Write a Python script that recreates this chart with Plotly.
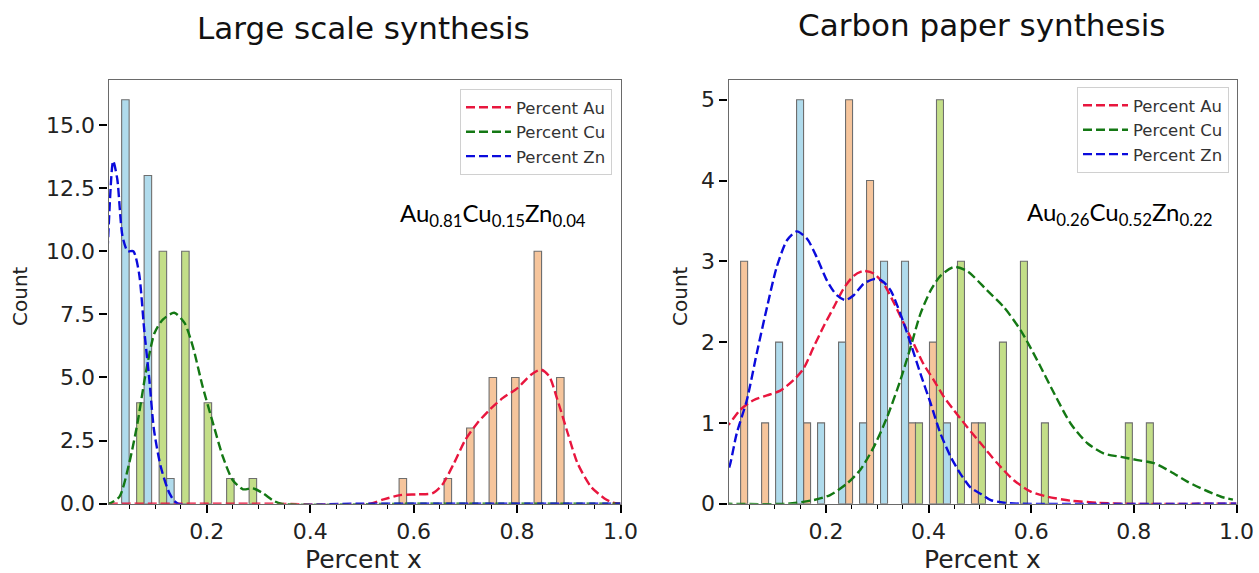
import plotly.graph_objects as go

# ---------------- data ----------------
elements = ["Au", "Cu", "Zn"]

# Left panel: "Large scale synthesis" (dodged histogram, 21 bins)
left_bin_start = 0.0064
left_bin_width = 0.0435
left_au = [0, 0, 0, 0, 0, 0, 0, 0, 0, 0, 0, 0, 0, 1, 0, 1, 3, 5, 5, 10, 5]
left_cu = [0, 4, 10, 10, 4, 1, 1, 0, 0, 0, 0, 0, 0, 0, 0, 0, 0, 0, 0, 0, 0]
left_zn = [16, 13, 1, 0, 0, 0, 0, 0, 0, 0, 0, 0, 0, 0, 0, 0, 0, 0, 0, 0, 0]

# Right panel: "Carbon paper synthesis" (dodged histogram, 20 bins)
right_bin_start = 0.0336
right_bin_width = 0.0409
right_au = [3, 1, 0, 1, 0, 5, 4, 0, 1, 2, 0, 1, 0, 0, 0, 0, 0, 0, 0, 0]
right_cu = [0, 0, 0, 0, 0, 0, 0, 0, 1, 5, 3, 1, 2, 3, 1, 0, 0, 0, 1, 1]
right_zn = [0, 2, 5, 1, 2, 1, 3, 3, 0, 1, 0, 0, 0, 0, 0, 0, 0, 0, 0, 0]

# KDE curves (x, count-scaled density)
left_kde_au_x = [0.01, 0.3, 0.516, 0.542, 0.574, 0.607, 0.636, 0.655, 0.678, 0.70, 0.723, 0.747, 0.772,
                 0.801, 0.827, 0.846, 0.862, 0.878, 0.898, 0.917, 0.943, 0.969, 0.985, 1.0]
left_kde_au_y = [0.0, 0.0, 0.0, 0.17, 0.34, 0.37, 0.41, 0.74, 1.6, 2.53, 3.19, 3.72, 4.18,
                 4.58, 5.11, 5.31, 5.05, 4.12, 2.79, 1.6, 0.67, 0.21, 0.04, 0.0]
left_kde_cu_x = [0.005, 0.011, 0.031, 0.05, 0.066, 0.082, 0.099, 0.115, 0.137, 0.157, 0.173, 0.192, 0.212,
                 0.231, 0.25, 0.27, 0.289, 0.309, 0.328, 0.344, 0.6, 1.0]
left_kde_cu_y = [0.0, 0.0, 0.27, 1.6, 3.19, 5.17, 6.76, 7.29, 7.56, 7.16, 6.23, 4.64, 3.19,
                 1.87, 0.94, 0.57, 0.61, 0.41, 0.13, 0.0, 0.0, 0.0]
left_kde_zn_x = [0.004, 0.008, 0.019, 0.027, 0.037, 0.047, 0.058, 0.069, 0.079, 0.089, 0.098, 0.111,
                 0.128, 0.144, 0.5, 1.0]
left_kde_zn_y = [8.5, 10.0, 13.57, 12.85, 10.6, 10.0, 10.0, 9.14, 6.9, 4.9, 2.92, 1.47,
                 0.41, 0.0, 0.0, 0.0]

right_kde_au_x = [0.0, 0.0117, 0.0326, 0.0586, 0.085, 0.111, 0.137, 0.156, 0.176, 0.195, 0.215, 0.234,
                  0.254, 0.273, 0.293, 0.3125, 0.332, 0.3516, 0.371, 0.39, 0.41, 0.43, 0.449,
                  0.475, 0.501, 0.534, 0.566, 0.599, 0.632, 0.677, 0.729, 0.775, 1.0]
right_kde_au_y = [0.93, 0.99, 1.16, 1.28, 1.34, 1.40, 1.53, 1.67, 1.94, 2.19, 2.43, 2.66,
                  2.82, 2.88, 2.85, 2.72, 2.49, 2.23, 1.98, 1.73, 1.53, 1.32, 1.16,
                  0.95, 0.75, 0.50, 0.29, 0.15, 0.086, 0.037, 0.012, 0.0, 0.0]
right_kde_cu_x = [0.0, 0.124, 0.176, 0.208, 0.241, 0.267, 0.293, 0.319, 0.345, 0.365, 0.384, 0.404,
                  0.423, 0.449, 0.475, 0.514, 0.547, 0.58, 0.612, 0.645, 0.677, 0.71, 0.742,
                  0.775, 0.807, 0.84, 0.872, 0.905, 0.9375, 0.97, 0.993]
right_kde_cu_y = [0.0, 0.0, 0.045, 0.107, 0.25, 0.42, 0.70, 1.07, 1.53, 1.94, 2.35, 2.64,
                  2.82, 2.93, 2.88, 2.64, 2.43, 2.14, 1.77, 1.36, 0.99, 0.745, 0.62,
                  0.58, 0.54, 0.50, 0.395, 0.27, 0.17, 0.086, 0.05]
right_kde_zn_x = [0.0, 0.0117, 0.026, 0.0457, 0.065, 0.085, 0.104, 0.124, 0.143, 0.163, 0.182, 0.202,
                  0.221, 0.238, 0.254, 0.273, 0.293, 0.309, 0.326, 0.345, 0.365, 0.384, 0.404,
                  0.423, 0.443, 0.462, 0.482, 0.502, 0.521, 0.547, 0.58, 1.0]
right_kde_zn_y = [0.3, 0.457, 0.87, 1.28, 1.86, 2.43, 2.93, 3.26, 3.37, 3.28, 3.05, 2.76,
                  2.58, 2.52, 2.58, 2.72, 2.78, 2.76, 2.64, 2.35, 1.98, 1.61, 1.24,
                  0.87, 0.58, 0.37, 0.20, 0.12, 0.045, 0.012, 0.0, 0.0]

left_title = "Large scale synthesis"
right_title = "Carbon paper synthesis"
left_formula = "Au<sub>0.81</sub>Cu<sub>0.15</sub>Zn<sub>0.04</sub>"
right_formula = "Au<sub>0.26</sub>Cu<sub>0.52</sub>Zn<sub>0.22</sub>"
left_yticks = [0, 2.5, 5, 7.5, 10, 12.5, 15]
left_yticktext = ["0.0", "2.5", "5.0", "7.5", "10.0", "12.5", "15.0"]
right_yticks = [0, 1, 2, 3, 4, 5]
right_yticktext = ["0", "1", "2", "3", "4", "5"]
xticks = [0.2, 0.4, 0.6, 0.8, 1.0]
xticktext = ["0.2", "0.4", "0.6", "0.8", "1.0"]

# ---------------- styles ----------------
bar_colors = {"Au": "#f6c59c", "Cu": "#c3de88", "Zn": "#b0dbec"}
line_colors = {"Au": "#e8163e", "Cu": "#147814", "Zn": "#0b0bdc"}
FONT = "DejaVu Sans"

W, H = 1259, 573
fig = go.Figure()


def add_panel(xaxis, yaxis, bin_start, bin_width, counts, kdes, legend):
    sub = bin_width / 3.0
    for slot, el in enumerate(elements):
        xs, ys = [], []
        for k, c in enumerate(counts[el]):
            if c > 0:
                xs.append(bin_start + k * bin_width + (slot + 0.5) * sub)
                ys.append(c)
        fig.add_trace(go.Bar(
            x=xs, y=ys, width=[sub] * len(xs), xaxis=xaxis, yaxis=yaxis,
            marker=dict(color=bar_colors[el], line=dict(color="#6e6e6e", width=1.1)),
            showlegend=False, hoverinfo="skip"))
    for el in elements:
        kx, ky = kdes[el]
        fig.add_trace(go.Scatter(
            x=kx, y=ky, mode="lines", xaxis=xaxis, yaxis=yaxis,
            line=dict(color=line_colors[el], width=2.4, dash="9px,4px", shape="spline", smoothing=0.7),
            name="Percent " + el, legend=legend))


add_panel("x", "y", left_bin_start, left_bin_width,
          {"Au": left_au, "Cu": left_cu, "Zn": left_zn},
          {"Au": (left_kde_au_x, left_kde_au_y), "Cu": (left_kde_cu_x, left_kde_cu_y),
           "Zn": (left_kde_zn_x, left_kde_zn_y)}, "legend")
add_panel("x2", "y2", right_bin_start, right_bin_width,
          {"Au": right_au, "Cu": right_cu, "Zn": right_zn},
          {"Au": (right_kde_au_x, right_kde_au_y), "Cu": (right_kde_cu_x, right_kde_cu_y),
           "Zn": (right_kde_zn_x, right_kde_zn_y)}, "legend2")

ydom = [69.3 / H, 1 - 79.5 / H]
xdom_l = [108.5 / W, 620.5 / W]
xdom_r = [728.5 / W, 1236.5 / W]

common_x = dict(range=[0.01, 1.0], showline=True, mirror=True, linecolor="#6a6a6a", linewidth=1.3,
                showgrid=False, zeroline=False, ticks="outside", ticklen=8, tickwidth=2, tickcolor="black",
                tickvals=xticks, ticktext=xticktext, tickfont=dict(family=FONT, size=22, color="#222"),
                automargin=False,
                minor=dict(ticks="outside", ticklen=4, tickwidth=1.3, tickcolor="black", dtick=0.05, tick0=0,
                           showgrid=False))
common_y = dict(showline=True, mirror=True, linecolor="#6a6a6a", linewidth=1.3, showgrid=False,
                zeroline=False, ticks="outside", ticklen=8, tickwidth=2, tickcolor="black",
                automargin=False, tickfont=dict(family=FONT, size=22, color="#222"))

legend_common = dict(xanchor="right", yanchor="top", bgcolor="rgba(255,255,255,0.8)",
                     bordercolor="#d0d0d0", borderwidth=1,
                     font=dict(family=FONT, size=16.5, color="#333"), itemwidth=45, tracegroupgap=0)

fig.update_layout(
    width=W, height=H, margin=dict(l=0, r=0, t=0, b=0, autoexpand=False),
    paper_bgcolor="white", plot_bgcolor="white", barmode="overlay",
    xaxis=dict(domain=xdom_l, anchor="y", **common_x),
    yaxis=dict(domain=ydom, anchor="x", range=[0, 16.8], tickvals=left_yticks, ticktext=left_yticktext,
               **common_y),
    xaxis2=dict(domain=xdom_r, anchor="y2", **common_x),
    yaxis2=dict(domain=ydom, anchor="x2", range=[0, 5.25], tickvals=right_yticks, ticktext=right_yticktext,
                **common_y),
    legend=dict(x=612 / W, y=1 - 89 / H, **legend_common),
    legend2=dict(x=1229 / W, y=1 - 87 / H, **legend_common),
)

ann = []
ann.append(dict(x=363 / W, y=1 - 28 / H, text=left_title, font=dict(family=FONT, size=31, color="#111")))
ann.append(dict(x=982 / W, y=1 - 25 / H, text=right_title, font=dict(family=FONT, size=31, color="#111")))
ann.append(dict(x=493 / W, y=1 - 215 / H, text=left_formula, font=dict(family="Lato", size=24, color="black")))
ann.append(dict(x=1120 / W, y=1 - 213 / H, text=right_formula, font=dict(family="Lato", size=24, color="black")))
ann.append(dict(x=363 / W, y=1 - 559 / H, text="Percent x", font=dict(family=FONT, size=25, color="#222")))
ann.append(dict(x=982 / W, y=1 - 559 / H, text="Percent x", font=dict(family=FONT, size=25, color="#222")))
ann.append(dict(x=20 / W, y=1 - 296 / H, text="Count", textangle=-90, font=dict(family=FONT, size=20, color="#222")))
ann.append(dict(x=680 / W, y=1 - 296 / H, text="Count", textangle=-90, font=dict(family=FONT, size=20, color="#222")))
for a in ann:
    a.update(xref="paper", yref="paper", showarrow=False, xanchor="center", yanchor="middle")
fig.update_layout(annotations=ann)

fig.write_html("out.html")
